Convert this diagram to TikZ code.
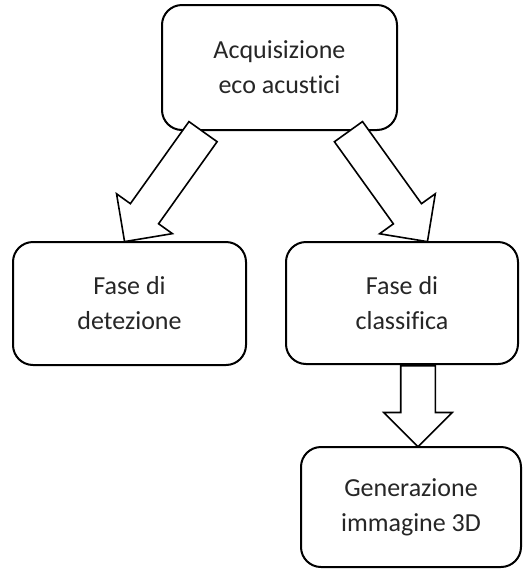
\documentclass[tikz,border=0pt]{standalone}
\usepackage{fontspec}
\setmainfont{Carlito}[Ligatures=NoCommon]
\usetikzlibrary{calc,shapes.arrows}

\begin{document}
\begin{tikzpicture}[x=0.5pt, y=-0.5pt,
    box/.style={draw, line width=1pt, rounded corners=10pt, fill=white, align=center,
        font=\fontsize{13}{17.5}\selectfont, text=black!85},
    fatarrow/.style={single arrow, draw, line width=0.8pt, fill=white, inner sep=0pt,
        inner ysep=8.25pt, single arrow head extend=8.5pt, single arrow tip angle=90,
        sloped, allow upside down}]

            \useasboundingbox (0,0) rectangle (523,569);

            % Boxes
            \node[box, minimum width=117.5pt, minimum height=62.5pt] (acq) at (279.5,67.5) {Acquisizione\\eco acustici};
            \node[box, minimum width=116.5pt, minimum height=61.5pt] (det) at (129.5,303.5) {Fase di\\detezione};
            \node[box, minimum width=116pt, minimum height=61pt] (cla) at (402,303) {Fase di\\classifica};
            \node[box, minimum width=110pt, minimum height=60pt] (gen) at (411,507) {Generazione\\immagine 3D};

            % Arrow ends
            \coordinate (s1) at ($(acq.south)+(-76,0)$);
            \coordinate (e1) at ($(det.north)+(-4.5,0)$);
            \coordinate (s2) at ($(acq.south)+(68.5,0)$);
            \coordinate (e2) at ($(cla.north)+(25,0)$);
            \coordinate (s3) at ($(cla.south)+(16,0)$);
            \coordinate (e3) at (s3 |- gen.north);

            % Arrows
            \foreach \s/\e in {s1/e1, s2/e2, s3/e3}
            \path let \p1=($(\e)-(\s)$), \n1={veclen(\x1,\y1)} in
                (\s) -- node[fatarrow, at start, anchor=tail, minimum height=\n1] {} (\e);

        \end{tikzpicture}
\end{document}
